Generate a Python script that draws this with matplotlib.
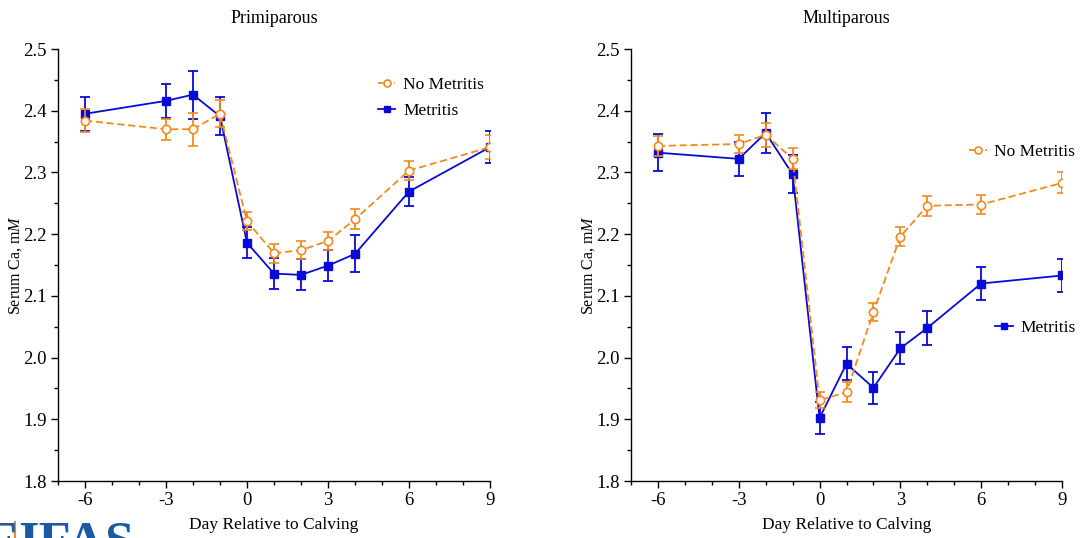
import matplotlib
matplotlib.use("Agg")
import matplotlib.pyplot as plt
from matplotlib.ticker import MultipleLocator
from matplotlib.lines import Line2D

days = [-6, -3, -2, -1, 0, 1, 2, 3, 4, 6, 9]

# Primiparous
prim_nomet = [2.384, 2.370, 2.370, 2.395, 2.221, 2.169, 2.174, 2.189, 2.224, 2.303, 2.341]
prim_nomet_se = [0.018, 0.017, 0.027, 0.022, 0.015, 0.015, 0.015, 0.015, 0.016, 0.015, 0.019]
prim_met = [2.395, 2.416, 2.426, 2.391, 2.186, 2.136, 2.134, 2.149, 2.168, 2.269, 2.341]
prim_met_se = [0.028, 0.028, 0.039, 0.031, 0.025, 0.025, 0.025, 0.025, 0.030, 0.024, 0.026]

# Multiparous
mult_nomet = [2.343, 2.346, 2.361, 2.322, 1.931, 1.944, 2.074, 2.196, 2.246, 2.248, 2.283]
mult_nomet_se = [0.016, 0.015, 0.019, 0.017, 0.013, 0.016, 0.015, 0.015, 0.016, 0.015, 0.017]
mult_met = [2.332, 2.322, 2.364, 2.297, 1.902, 1.990, 1.951, 2.015, 2.048, 2.120, 2.133]
mult_met_se = [0.030, 0.028, 0.033, 0.031, 0.026, 0.027, 0.026, 0.026, 0.028, 0.026, 0.027]

titles = ["Primiparous", "Multiparous"]
xticks = [-6, -3, 0, 3, 6, 9]
yticks = [1.8, 1.9, 2.0, 2.1, 2.2, 2.3, 2.4, 2.5]

ORANGE = "#f28a1e"
BLUE = "#0a0ad6"

plt.rcParams['font.family'] = ['Liberation Serif', 'DejaVu Serif']
plt.rcParams['mathtext.fontset'] = 'custom'
plt.rcParams['mathtext.it'] = 'Liberation Serif:italic'
plt.rcParams['mathtext.rm'] = 'Liberation Serif'
plt.rcParams['axes.unicode_minus'] = False

fig = plt.figure(figsize=(10.81, 5.38), dpi=100)
W, H = 1081, 538
AX_W, AX_H = 432, 432
axL = fig.add_axes([58 / W, 1 - 481 / H, (490 - 58) / W, (481 - 49) / H])
axR = fig.add_axes([631 / W, 1 - 481 / H, (1062 - 631) / W, (481 - 49) / H])

nomet_handle = Line2D([], [], color=ORANGE, ls=(0, (3, 1.5)), lw=1.3, marker='o', ms=5,
                      mfc='white', mec=ORANGE, mew=1.2)
met_handle = Line2D([], [], color=BLUE, ls='-', lw=1.3, marker='s', ms=4.5,
                    mfc=BLUE, mec=BLUE)

def draw(ax, nomet, nomet_se, met, met_se, title):
    ax.errorbar(days, nomet, yerr=nomet_se, color=ORANGE, ls=(0, (4, 2)), lw=1.3,
                marker='o', ms=6, mfc='white', mec=ORANGE, mew=1.2,
                capsize=3.5, elinewidth=1.3, capthick=1.3, zorder=3)
    ax.errorbar(days, met, yerr=met_se, color=BLUE, ls='-', lw=1.3,
                marker='s', ms=5.5, mfc=BLUE, mec=BLUE,
                capsize=3.5, elinewidth=1.3, capthick=1.3, zorder=2)
    ax.set_xlim(-7, 9)
    ax.set_ylim(1.8, 2.5)
    ax.set_xticks(xticks)
    ax.set_yticks(yticks)
    ax.set_xticklabels([str(v) for v in xticks])
    ax.xaxis.set_minor_locator(MultipleLocator(1))
    ax.yaxis.set_minor_locator(MultipleLocator(0.05))
    ax.set_yticklabels([f"{v:.1f}" for v in yticks])
    ax.tick_params(which='major', direction='out', length=5, width=1, labelsize=13.5, pad=3)
    ax.tick_params(which='minor', direction='out', length=3, width=1)
    for s in ['top', 'right']:
        ax.spines[s].set_visible(False)
    for s in ['left', 'bottom']:
        ax.spines[s].set_linewidth(1)
    ax.set_title(title, fontsize=13, pad=19)
    ax.set_xlabel("Day Relative to Calving", fontsize=12.5, labelpad=6)
    ax.set_ylabel(r"Serum Ca, m$M$", fontsize=11.5)
    ax.yaxis.set_label_coords(-0.078, 0.5)

def legend_at(ax, handles, labels, x_px, y_px, x0_px):
    leg = ax.legend(handles, labels, loc='center left',
                    bbox_to_anchor=((x_px - x0_px) / AX_W, (481 - y_px) / AX_H),
                    frameon=False, fontsize=12.5, handlelength=1.0, handletextpad=0.45,
                    labelspacing=0.6, borderpad=0, borderaxespad=0)
    return leg

draw(axL, prim_nomet, prim_nomet_se, prim_met, prim_met_se, titles[0])
legend_at(axL, [nomet_handle, met_handle], ["No Metritis", "Metritis"], 378, 98, 58)

draw(axR, mult_nomet, mult_nomet_se, mult_met, mult_met_se, titles[1])
legA = legend_at(axR, [nomet_handle], ["No Metritis"], 970, 152, 631)
axR.add_artist(legA)
legend_at(axR, [met_handle], ["Metritis"], 996, 328, 631)

# partial logo at bottom-left
fig.text(18 / W, 1 - 521 / H, "IFAS", color="#1b5aa3", fontsize=38, fontweight='bold',
         va='top', ha='left', family='Liberation Serif')
fig.add_artist(Line2D([15 / W, 15 / W], [0, 1 - 522 / H], color="#f28a1e", lw=1.5))
fig.text(-16 / W, 1 - 521 / H, "F", color="#1b5aa3", fontsize=38, fontweight='bold',
         va='top', ha='left', family='Liberation Serif')

fig.savefig("out.png", dpi=100)
